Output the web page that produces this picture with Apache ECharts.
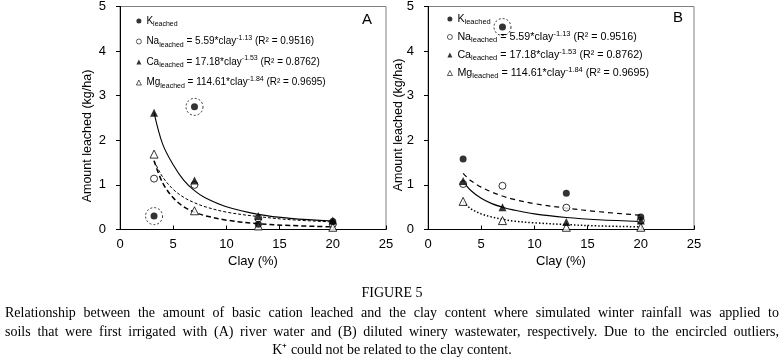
<!DOCTYPE html>
<html><head><meta charset="utf-8">
<script src="https://cdn.jsdelivr.net/npm/echarts@6/dist/echarts.min.js"></script>
<style>html,body{margin:0;padding:0;background:#fff}#c{width:784px;height:361px}</style>
</head><body><div id="c"></div>
<script>
// ---- data ----
const clayA = [3.2, 7, 13, 20];
const kA  = [0.30, 2.75, 0.12, 0.18];
const naA = [1.14, 1.00, 0.25, 0.12];
const caA = [2.62, 1.10, 0.30, 0.20];
const mgA = [1.69, 0.42, 0.08, 0.05];
const outlierIdxA = [0, 1];

const clayB = [3.3, 7, 13, 20];
const kB  = [1.58, 4.54, 0.81, 0.28];
const naB = [1.02, 0.98, 0.49, 0.20];
const caB = [1.09, 0.50, 0.17, 0.20];
const mgB = [0.63, 0.20, 0.05, 0.05];
const outlierIdxB = [1];

// fitted trend lines
const fitXA  = [3.2, 4, 5, 6, 7, 8, 10, 13, 16, 20];
const caFitA = [2.62, 1.92, 1.45, 1.10, 0.87, 0.71, 0.51, 0.34, 0.25, 0.19];
const naFitA = [1.54, 1.18, 0.90, 0.72, 0.60, 0.51, 0.39, 0.29, 0.22, 0.17];
const mgFitA = [1.54, 1.05, 0.71, 0.51, 0.39, 0.31, 0.21, 0.13, 0.09, 0.06];

const fitXB  = [3.3, 4, 5, 6, 7, 8, 10, 13, 16, 20];
const naFitB = [1.26, 1.10, 0.95, 0.84, 0.75, 0.68, 0.58, 0.48, 0.40, 0.32];
const caFitB = [1.08, 0.88, 0.70, 0.58, 0.50, 0.44, 0.35, 0.27, 0.22, 0.18];
const mgFitB = [0.62, 0.47, 0.35, 0.28, 0.23, 0.19, 0.15, 0.11, 0.08, 0.06];

const xTicks = [0, 25, 5];   // min, max, interval
const yTicks = [0, 5, 1];

const seriesNames = ['K', 'Na', 'Ca', 'Mg'];
const legendTexts = {
  K:  '{b|K}{s|leached}',
  Na: '{b|Na}{s|leached}{b| = 5.59*clay}{p|-1.13}{b| (R² = 0.9516)}',
  Ca: '{b|Ca}{s|leached}{b| = 17.18*clay}{p|-1.53}{b| (R² = 0.8762)}',
  Mg: '{b|Mg}{s|leached}{b| = 114.61*clay}{p|-1.84}{b| (R² = 0.9695)}'
};
const yTitle = 'Amount leached (kg/ha)';
const xTitle = 'Clay (%)';
const figTitle = 'FIGURE 5';
const captionLines = [
  'Relationship between the amount of basic cation leached and the clay content where simulated winter rainfall was applied to',
  'soils that were first irrigated with (A) river water and (B) diluted winery wastewater, respectively. Due to the encircled outliers,',
  'K⁺ could not be related to the clay content.'
];

// ---- build ----
const SANS = "'Liberation Sans', Arial, sans-serif";
const SERIF = "'Liberation Serif', 'Times New Roman', serif";
const pts = (xs, ys) => xs.map((x, i) => [x, ys[i]]);

function richFor(fs, lh) {
  return {
    b: {fontSize: fs, fontFamily: SANS, color: '#000', lineHeight: lh},
    s: {fontSize: fs * 0.7, fontFamily: SANS, color: '#000', lineHeight: 7, verticalAlign: 'bottom'},
    p: {fontSize: fs * 0.7, fontFamily: SANS, color: '#000', lineHeight: 8, verticalAlign: 'top'}
  };
}

function gridAxes(idx, left) {
  return {
    grid: {left: left, top: 6, width: 266, height: 223.5, show: true, borderColor: '#808080', borderWidth: 1, backgroundColor: 'transparent'},
    x: {
      type: 'value', gridIndex: idx, min: xTicks[0], max: xTicks[1], interval: xTicks[2],
      axisLine: {show: true, onZero: false, lineStyle: {color: '#000', width: 1}},
      axisTick: {show: true, inside: true, length: 4, lineStyle: {color: '#000'}},
      axisLabel: {color: '#000', fontSize: 13, fontFamily: SANS, margin: 8},
      splitLine: {show: false},
      name: xTitle, nameLocation: 'middle', nameGap: 23,
      nameTextStyle: {color: '#000', fontSize: 13, fontFamily: SANS}
    },
    y: {
      type: 'value', gridIndex: idx, min: yTicks[0], max: yTicks[1], interval: yTicks[2],
      axisLine: {show: true, onZero: false, lineStyle: {color: '#000', width: 1}},
      axisTick: {show: true, inside: false, length: 4, lineStyle: {color: '#000'}},
      axisLabel: {color: '#000', fontSize: 13, fontFamily: SANS, margin: 14},
      splitLine: {show: false}
    }
  };
}

const gA = gridAxes(0, 120), gB = gridAxes(1, 428);

function panelSeries(idx, clay, k, na, ca, mg, outl, fitX, fits) {
  const s = [];
  fits.forEach(f => s.push({
    type: 'line', xAxisIndex: idx, yAxisIndex: idx, data: pts(fitX, f.v),
    smooth: 0.35, showSymbol: false, symbol: 'none', silent: true, z: 2,
    lineStyle: {color: '#000', width: f.w, type: f.t}
  }));
  s.push({name: 'K', type: 'scatter', xAxisIndex: idx, yAxisIndex: idx, data: pts(clay, k), symbol: 'circle', symbolSize: 7, itemStyle: {color: '#000'}, z: 5});
  s.push({name: 'Na', type: 'scatter', xAxisIndex: idx, yAxisIndex: idx, data: pts(clay, na), symbol: 'circle', symbolSize: 7, itemStyle: {color: '#fff', borderColor: '#000', borderWidth: 1}, z: 4});
  s.push({name: 'Ca', type: 'scatter', xAxisIndex: idx, yAxisIndex: idx, data: pts(clay, ca), symbol: 'triangle', symbolSize: 8, itemStyle: {color: '#000'}, z: 5});
  s.push({name: 'Mg', type: 'scatter', xAxisIndex: idx, yAxisIndex: idx, data: pts(clay, mg), symbol: 'triangle', symbolSize: 8, itemStyle: {color: '#fff', borderColor: '#000', borderWidth: 1}, z: 4});
  s.push({type: 'scatter', xAxisIndex: idx, yAxisIndex: idx, data: outl.map(i => [clay[i], k[i]]), symbol: 'circle', symbolSize: 17, silent: true, z: 3,
    itemStyle: {color: 'rgba(0,0,0,0)', borderColor: '#000', borderWidth: 1, borderType: [2, 2]}});
  return s;
}

const series = [].concat(
  panelSeries(0, clayA, kA, naA, caA, mgA, outlierIdxA, fitXA, [
    {v: caFitA, w: 1.1, t: 'solid'},
    {v: naFitA, w: 1, t: [3, 2]},
    {v: mgFitA, w: 1.5, t: [5, 3]}
  ]),
  panelSeries(1, clayB, kB, naB, caB, mgB, outlierIdxB, fitXB, [
    {v: naFitB, w: 1.2, t: [5, 4]},
    {v: caFitB, w: 1.1, t: 'solid'},
    {v: mgFitB, w: 1.5, t: [1.5, 2]}
  ])
);

const legendIcons = {
  K:  {icon: 'circle',   itemStyle: {color: '#000', borderWidth: 0}},
  Na: {icon: 'circle',   itemStyle: {color: '#fff', borderColor: '#000', borderWidth: 0.8}},
  Ca: {icon: 'triangle', itemStyle: {color: '#000', borderWidth: 0}},
  Mg: {icon: 'triangle', itemStyle: {color: '#fff', borderColor: '#000', borderWidth: 0.8}}
};

function makeLegend(left, top, gap, fs, lh) {
  return {
    left: left, top: top, orient: 'vertical', padding: 0,
    data: seriesNames.map(n => Object.assign({name: n}, legendIcons[n])),
    itemWidth: 5, itemHeight: 5, itemGap: gap, selectedMode: false,
    formatter: n => legendTexts[n],
    textStyle: {fontFamily: SANS, fontSize: fs, color: '#000', rich: richFor(fs, lh)}
  };
}

// caption justified by word placement
const ctx = document.createElement('canvas').getContext('2d');
const capFont = '14px ' + SERIF;
ctx.font = capFont;
function justified(line, y, left, right) {
  const words = line.split(' ');
  const widths = words.map(w => ctx.measureText(w).width);
  const total = widths.reduce((a, b) => a + b, 0);
  const gap = (right - left - total) / (words.length - 1);
  let x = left;
  return words.map((w, i) => {
    const el = {type: 'text', x: x, y: y, silent: true, style: {text: w, font: capFont, fill: '#000', textAlign: 'left', textVerticalAlign: 'middle'}};
    x += widths[i] + gap;
    return el;
  });
}

const graphic = [
  {type: 'rect', shape: {x: 0, y: 0, width: 784, height: 361}, style: {fill: '#fff'}, z: -10, silent: true},
  {type: 'text', x: 88, y: 136, rotation: Math.PI / 2, style: {text: yTitle, font: '12.5px ' + SANS, fill: '#000', textAlign: 'center', textVerticalAlign: 'middle'}},
  {type: 'text', x: 399, y: 125, rotation: Math.PI / 2, style: {text: yTitle, font: '12.5px ' + SANS, fill: '#000', textAlign: 'center', textVerticalAlign: 'middle'}},
  {type: 'text', x: 367, y: 20, style: {text: 'A', font: '15px ' + SANS, fill: '#000', textAlign: 'center', textVerticalAlign: 'middle'}},
  {type: 'text', x: 678, y: 18, style: {text: 'B', font: '15px ' + SANS, fill: '#000', textAlign: 'center', textVerticalAlign: 'middle'}},
  {type: 'text', x: 392, y: 293, style: {text: figTitle, font: capFont, fill: '#000', textAlign: 'center', textVerticalAlign: 'middle'}}
].concat(
  justified(captionLines[0], 313, 5, 779),
  justified(captionLines[1], 332, 5, 779),
  [{type: 'text', x: 392, y: 350, style: {text: captionLines[2], font: capFont, fill: '#000', textAlign: 'center', textVerticalAlign: 'middle'}}]
);

const chart = echarts.init(document.getElementById('c'), null, {renderer: 'canvas'});
chart.setOption({
  animation: false,
  backgroundColor: '#fff',
  grid: [gA.grid, gB.grid],
  xAxis: [gA.x, gB.x],
  yAxis: [gA.y, gB.y],
  legend: [makeLegend(136, 16, 6.5, 10, 14), makeLegend(447, 13.5, 4.5, 10.7, 13.5)],
  series: series,
  graphic: graphic
});
</script>
</body></html>
